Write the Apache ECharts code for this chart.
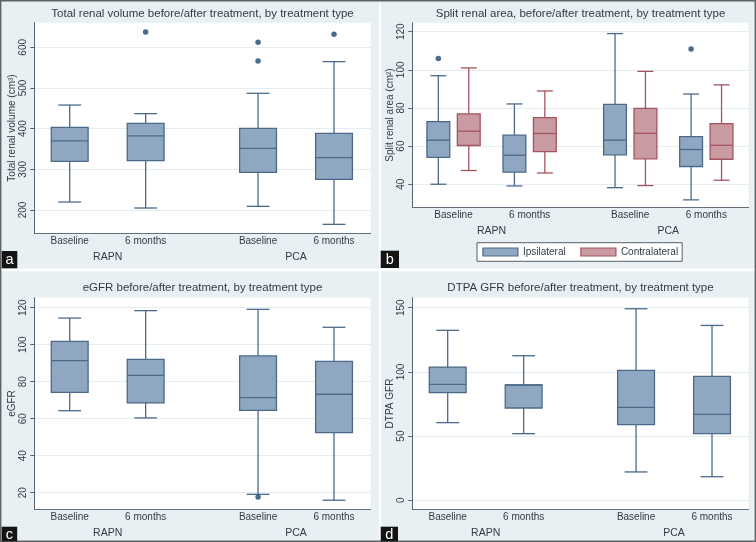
<!DOCTYPE html>
<html><head><meta charset="utf-8">
<script src="https://cdn.jsdelivr.net/npm/echarts@6/dist/echarts.min.js"></script>
<style>html,body{margin:0;padding:0;background:#e8f0f3}#c{width:756px;height:542px}</style>
</head><body><div id="c"></div>
<script>
// ---------- data ----------
const groups = ['RAPN', 'PCA'];
const times = ['Baseline', '6 months'];
// each box: [lower whisker, Q1, median, Q3, upper whisker], order RAPN-Baseline, RAPN-6m, PCA-Baseline, PCA-6m
const volumeBoxes = [[219.6, 319.7, 369.7, 403.0, 458.0], [204.9, 321.3, 382.0, 413.0, 436.9], [209.0, 292.6, 351.6, 400.8, 486.9], [164.7, 275.4, 328.7, 388.5, 564.8]];
const volumeOutliers = [[], [637.7], [612.3, 566.4], [632.0]];
const volumeTicks = [200, 300, 400, 500, 600];

const areaIpsiBoxes = [[40.0, 54.1, 63.1, 72.8, 96.9], [39.1, 46.3, 55.2, 65.7, 82.1], [38.2, 55.4, 63.1, 81.9, 119.0], [31.8, 49.3, 58.2, 65.0, 87.3]];
const areaIpsiOutliers = [[105.9], [], [], [110.9]];
const areaContraBoxes = [[47.2, 60.3, 67.8, 76.9, 101.0], [45.9, 57.1, 66.6, 74.9, 88.9], [39.3, 53.3, 66.7, 79.8, 99.2], [42.1, 53.1, 60.4, 71.8, 92.1]];
const areaContraOutliers = [[], [], [], []];
const areaTicks = [40, 60, 80, 100, 120];
const sideNames = ['Ipsilateral', 'Contralateral'];

const egfrBoxes = [[64.3, 74.2, 91.4, 101.8, 114.4], [60.4, 68.5, 83.4, 92.1, 118.4], [19.1, 64.5, 71.4, 93.9, 119.1], [15.9, 52.4, 73.2, 91.0, 109.4]];
const egfrOutliers = [[], [], [17.7], []];
const egfrTicks = [20, 40, 60, 80, 100, 120];

const dtpaBoxes = [[60.5, 83.8, 90.3, 103.8, 132.4], [51.9, 71.9, 89.8, 89.8, 112.6], [22.1, 58.9, 72.4, 101.2, 149.2], [18.4, 51.9, 67.0, 96.5, 136.2]];
const dtpaOutliers = [[], [], [], []];
const dtpaTicks = [0, 50, 100, 150];

const titles = ['Total renal volume before/after treatment, by treatment type', 'Split renal area, before/after treatment, by treatment type', 'eGFR before/after treatment, by treatment type', 'DTPA GFR before/after treatment, by treatment type'];
const yNames = ['Total renal volume (cm³)', 'Split renal area (cm²)', 'eGFR', 'DTPA GFR'];
const panelLetters = ['a', 'b', 'c', 'd'];

// ---------- styles / layout ----------
const FONT = 'Liberation Sans, Arial, sans-serif';
const TXT = '#333b44';
const blueFill = '#8fa7c0', blueLine = '#4b6a8b';
const redFill = '#c99aa1', redLine = '#a4545e';
const dotColor = '#1a476f';

const layouts = [
  { grid: { left: 34.3, top: 22.7, width: 336.4, height: 210.6 }, y: [142.7, 660.5], x: [-0.466, 3.963], gstep: 2.48, titleY: 8, box: 0.485, cap: 0.62 },
  { grid: { left: 412.3, top: 22.7, width: 336.4, height: 184.6 }, y: [27.9, 124.7], x: [-0.542, 3.879], gstep: 2.322, titleY: 8, box: 0.30, cap: 0.70, off: 0.2 },
  { grid: { left: 34.3, top: 297.7, width: 336.4, height: 211.6 }, y: [11.0, 125.4], x: [-0.466, 3.963], gstep: 2.48, titleY: 282, box: 0.485, cap: 0.62 },
  { grid: { left: 412.3, top: 297.7, width: 336.4, height: 211.6 }, y: [-7.0, 157.8], x: [-0.466, 3.963], gstep: 2.48, titleY: 282, box: 0.485, cap: 0.62 }
];
const panelTicks = [volumeTicks, areaTicks, egfrTicks, dtpaTicks];

function pos(L, k) { return Math.floor(k / 2) * L.gstep + (k % 2); }

function boxRenderer(boxW, capRatio, fill, stroke) {
  return function (params, api) {
    const x = api.value(0);
    const w = api.size([boxW, 0])[0];
    const cw = w * capRatio;
    const lo = api.coord([x, api.value(1)]);
    const q1 = api.coord([x, api.value(2)]);
    const md = api.coord([x, api.value(3)]);
    const q3 = api.coord([x, api.value(4)]);
    const hi = api.coord([x, api.value(5)]);
    const cx = lo[0];
    const ls = { stroke: stroke, lineWidth: 1.3 };
    return {
      type: 'group', children: [
        { type: 'line', shape: { x1: cx, y1: hi[1], x2: cx, y2: q3[1] }, style: ls },
        { type: 'line', shape: { x1: cx, y1: q1[1], x2: cx, y2: lo[1] }, style: ls },
        { type: 'line', shape: { x1: cx - cw / 2, y1: hi[1], x2: cx + cw / 2, y2: hi[1] }, style: ls },
        { type: 'line', shape: { x1: cx - cw / 2, y1: lo[1], x2: cx + cw / 2, y2: lo[1] }, style: ls },
        { type: 'rect', shape: { x: cx - w / 2, y: q3[1], width: w, height: q1[1] - q3[1] }, style: { fill: fill, stroke: stroke, lineWidth: 1.3 } },
        { type: 'line', shape: { x1: cx - w / 2, y1: md[1], x2: cx + w / 2, y2: md[1] }, style: ls }
      ]
    };
  };
}

const grids = [], xAxes = [], yAxes = [], series = [], titleList = [];
layouts.forEach(function (L, p) {
  grids.push(Object.assign({ show: true, backgroundColor: '#ffffff', borderWidth: 0 }, L.grid));
  const catPos = [0, 1, 2, 3].map(function (k) { return pos(L, k); });
  const grpPos = [0, 1].map(function (g) { return g * L.gstep + 0.5; });
  xAxes.push({
    type: 'value', gridIndex: p, min: L.x[0], max: L.x[1], position: 'bottom',
    axisLine: { show: true, onZero: false, lineStyle: { color: '#66707a', width: 1 } },
    axisTick: { show: false }, splitLine: { show: false },
    axisLabel: {
      customValues: catPos, margin: 2.5, fontSize: 10, color: TXT, fontFamily: FONT,
      formatter: function (v) { let best = 0; catPos.forEach(function (c, i) { if (Math.abs(c - v) < Math.abs(catPos[best] - v)) best = i; }); return times[best % 2]; }
    }
  });
  xAxes.push({
    type: 'value', gridIndex: p, min: L.x[0], max: L.x[1], position: 'bottom', offset: 16,
    axisLine: { show: false, onZero: false }, axisTick: { show: false }, splitLine: { show: false },
    axisLabel: {
      customValues: grpPos, margin: 2.5, fontSize: 10.5, color: TXT, fontFamily: FONT,
      formatter: function (v) { return Math.abs(v - grpPos[0]) < Math.abs(v - grpPos[1]) ? groups[0] : groups[1]; }
    }
  });
  yAxes.push({
    type: 'value', gridIndex: p, min: L.y[0], max: L.y[1], position: 'left',
    name: yNames[p], nameLocation: 'middle', nameGap: 16,
    nameTextStyle: { fontSize: 10, color: TXT, fontFamily: FONT },
    axisLine: { show: true, onZero: false, lineStyle: { color: '#5a636c', width: 1 } },
    axisTick: { show: true, length: 4, customValues: panelTicks[p], lineStyle: { color: '#5a636c' } },
    axisLabel: { customValues: panelTicks[p], rotate: 90, margin: 6, fontSize: 10, color: TXT, fontFamily: FONT },
    splitLine: { show: true, lineStyle: { color: '#e5edf0', width: 1 } }
  });
  titleList.push({
    text: titles[p], left: L.grid.left + L.grid.width / 2, top: L.titleY, textAlign: 'center', padding: 0,
    textStyle: { fontSize: 11.5, fontWeight: 'normal', color: TXT, fontFamily: FONT }
  });
});

function addPanel(p, boxes, outliers, offset, fill, stroke, name) {
  const L = layouts[p];
  const data = boxes.map(function (b, k) { return [pos(L, k) + offset].concat(b); });
  series.push({
    type: 'custom', name: name, xAxisIndex: 2 * p, yAxisIndex: p,
    renderItem: boxRenderer(L.box, L.cap, fill, stroke),
    itemStyle: { color: fill, borderColor: stroke, borderWidth: 1 },
    encode: { x: 0, y: [1, 2, 3, 4, 5] }, data: data, z: 3
  });
  const pts = [];
  outliers.forEach(function (arr, k) { arr.forEach(function (v) { pts.push([pos(L, k) + offset, v]); }); });
  series.push({
    type: 'scatter', name: name + ' outliers', xAxisIndex: 2 * p, yAxisIndex: p,
    symbol: 'circle', symbolSize: 5.5, itemStyle: { color: dotColor }, data: pts, z: 4
  });
}
addPanel(0, volumeBoxes, volumeOutliers, 0, blueFill, blueLine, 'Total renal volume');
addPanel(1, areaIpsiBoxes, areaIpsiOutliers, -layouts[1].off, blueFill, blueLine, sideNames[0]);
addPanel(1, areaContraBoxes, areaContraOutliers, layouts[1].off, redFill, redLine, sideNames[1]);
addPanel(2, egfrBoxes, egfrOutliers, 0, blueFill, blueLine, 'eGFR');
addPanel(3, dtpaBoxes, dtpaOutliers, 0, blueFill, blueLine, 'DTPA GFR');

// panel decorations
const letterBoxes = [[1.7, 251, 15.6, 17.3], [380.7, 250.7, 18.3, 17.3], [1.7, 526.7, 15.5, 14.6], [380.7, 526.7, 17.3, 14.6]];
const graphics = [
  { type: 'rect', shape: { x: 379, y: 0, width: 2.2, height: 542 }, style: { fill: '#fbfdfd' }, z: 10 },
  { type: 'rect', shape: { x: 0, y: 268.6, width: 756, height: 2.6 }, style: { fill: '#fbfdfd' }, z: 10 },
  { type: 'rect', shape: { x: 0.7, y: 0.7, width: 754.6, height: 540.6 }, style: { fill: 'none', stroke: '#5e6366', lineWidth: 1.4 }, z: 11 }
];
letterBoxes.forEach(function (b, i) {
  graphics.push({ type: 'rect', shape: { x: b[0], y: b[1], width: b[2], height: b[3] }, style: { fill: '#141414' }, z: 12 });
  graphics.push({ type: 'text', x: b[0] + b[2] / 2, y: b[1] + b[3] / 2 + 0.5, style: { text: panelLetters[i], fill: '#ffffff', fontSize: 14.5, fontFamily: FONT, align: 'center', verticalAlign: 'middle' }, z: 13 });
});

const chart = echarts.init(document.getElementById('c'), null, { renderer: 'canvas' });
chart.setOption({
  backgroundColor: '#e8f0f3',
  animation: false,
  title: titleList,
  grid: grids,
  xAxis: xAxes,
  yAxis: yAxes,
  legend: {
    left: 477, top: 242.7, orient: 'horizontal', padding: [4.3, 4, 4.3, 5.3], itemGap: 14.6,
    itemWidth: 35, itemHeight: 8, backgroundColor: '#ffffff', borderColor: '#5a5f63', borderWidth: 1,
    borderRadius: 0, selectedMode: false,
    textStyle: { fontSize: 10, color: TXT, fontFamily: FONT },
    data: [
      { name: sideNames[0], icon: 'rect', itemStyle: { color: blueFill, borderColor: blueLine, borderWidth: 1.2 } },
      { name: sideNames[1], icon: 'rect', itemStyle: { color: redFill, borderColor: redLine, borderWidth: 1.2 } }
    ]
  },
  graphic: graphics,
  series: series
});
</script></body></html>
